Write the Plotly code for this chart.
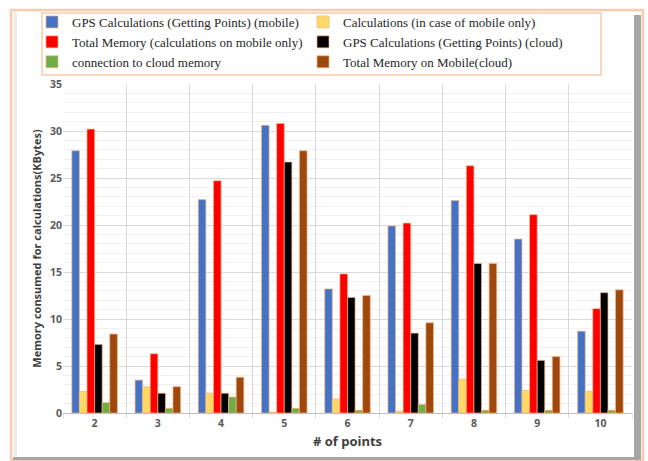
import plotly.graph_objects as go

categories = ["2", "3", "4", "5", "6", "7", "8", "9", "10"]

gps_mobile = [27.9, 3.5, 22.7, 30.6, 13.2, 19.9, 22.6, 18.5, 8.7]
calc_mobile = [2.3, 2.8, 2.1, 0.1, 1.5, 0.2, 3.6, 2.4, 2.3]
total_mobile = [30.2, 6.3, 24.7, 30.8, 14.8, 20.2, 26.3, 21.1, 11.1]
gps_cloud = [7.3, 2.1, 2.1, 26.7, 12.3, 8.5, 15.9, 5.6, 12.8]
conn_cloud = [1.1, 0.5, 1.7, 0.5, 0.3, 0.9, 0.3, 0.3, 0.3]
total_cloud = [8.4, 2.8, 3.8, 27.9, 12.5, 9.6, 15.9, 6.0, 13.1]

series = [
    ("GPS Calculations (Getting Points) (mobile)", gps_mobile, "#4472C4"),
    ("Calculations (in case of mobile only)", calc_mobile, "#FFD966"),
    ("Total Memory (calculations on mobile only)", total_mobile, "#FF0000"),
    ("GPS Calculations (Getting Points) (cloud)", gps_cloud, "#000000"),
    ("connection to cloud memory", conn_cloud, "#70AD47"),
    ("Total Memory on Mobile(cloud)", total_cloud, "#9E480E"),
]

W, H = 648, 461
L, R, T, B = 63, 632, 84, 413


def px(x):
    return (x - L) / (R - L)


def py(y):
    return (B - y) / (B - T)


fig = go.Figure()
for name, vals, col in series:
    fig.add_trace(go.Bar(
        x=categories, y=vals, name=name,
        marker=dict(color=col, line=dict(color="#F4B183", width=0.7)),
    ))

peach = "#F8CBAD"
shapes = [
    dict(type="rect", xref="paper", yref="paper",
         x0=px(11), x1=px(643), y0=py(460), y1=py(10),
         line=dict(color=peach, width=2.5), fillcolor="rgba(0,0,0,0)", layer="below"),
    dict(type="rect", xref="paper", yref="paper",
         x0=px(13.5), x1=px(17), y0=py(458), y1=py(12),
         line=dict(width=0), fillcolor="#EDEDED", layer="below"),
    dict(type="rect", xref="paper", yref="paper",
         x0=px(634), x1=px(641), y0=py(459), y1=py(15),
         line=dict(width=0), fillcolor="#A6A6A6", layer="below"),
    dict(type="rect", xref="paper", yref="paper",
         x0=px(13), x1=px(641), y0=py(460), y1=py(457),
         line=dict(width=0), fillcolor="#A6A6A6", layer="below"),
    # legend frame
    dict(type="rect", xref="paper", yref="paper",
         x0=px(42), x1=px(601), y0=py(75), y1=py(13),
         line=dict(color=peach, width=1.5), fillcolor="rgba(0,0,0,0)", layer="below"),
]

fig.update_layout(
    width=W, height=H,
    margin=dict(l=L, r=W - R, t=T, b=H - B, autoexpand=False),
    paper_bgcolor="white", plot_bgcolor="white",
    barmode="group", bargap=0.28, bargroupgap=0,
    shapes=shapes,
    showlegend=True,
    legend=dict(
        orientation="h", xref="container", yref="container",
        x=32 / W, xanchor="left", y=1 - 7 / H, yanchor="top",
        entrywidth=226, entrywidthmode="pixels", itemwidth=30,
        borderwidth=0, bgcolor="rgba(0,0,0,0)",
        font=dict(family="Liberation Serif, Times New Roman, serif", size=13, color="#262626"),
        tracegroupgap=0,
    ),
    xaxis=dict(
        type="category", tickson="boundaries", ticks="outside", ticklen=4,
        tickcolor="#D9D9D9", showgrid=True, gridcolor="#D9D9D9", gridwidth=1,
        showline=True, linecolor="#BFBFBF", linewidth=1,
        tickfont=dict(family="Open Sans, Liberation Sans, sans-serif", size=10.5, color="#595959", weight="bold"),
        title=dict(text="# of points", standoff=8,
                   font=dict(family="Open Sans, Liberation Sans, sans-serif", size=13, color="#404040", weight="bold")),
    ),
    yaxis=dict(
        range=[0, 35], dtick=5, showgrid=True, gridcolor="#D9D9D9", gridwidth=1,
        minor=dict(dtick=1, showgrid=True, gridcolor="#F0F0F0", gridwidth=1),
        zeroline=False, showline=False, ticks="",
        tickfont=dict(family="Open Sans, Liberation Sans, sans-serif", size=10.5, color="#595959", weight="bold"),
        title=dict(text="Memory consumed for calculations(KBytes)", standoff=6,
                   font=dict(family="Open Sans, Liberation Sans, sans-serif", size=11, color="#404040", weight="bold")),
    ),
)

fig.write_html("out.html", config={"displayModeBar": False},
               post_script="document.body.style.margin='0';document.body.style.padding='0';")
